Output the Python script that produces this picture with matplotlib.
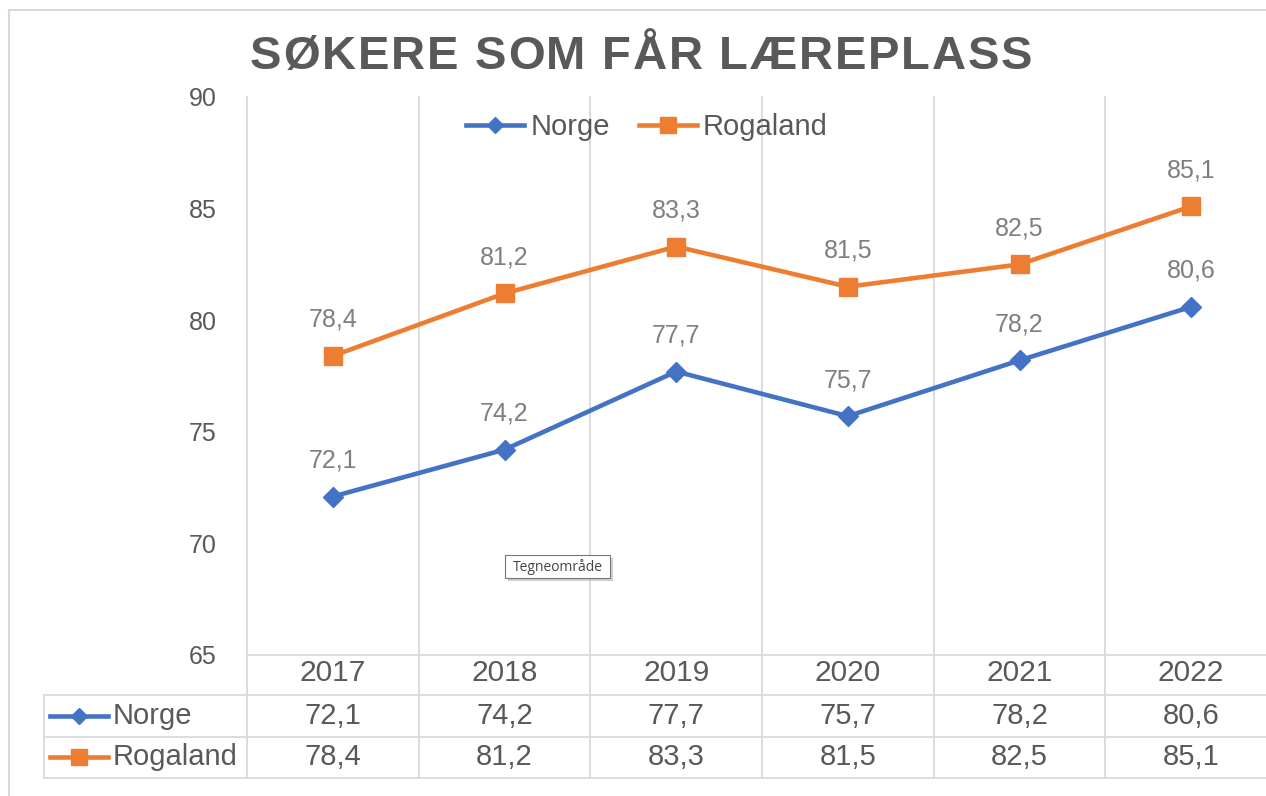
import matplotlib.pyplot as plt
from matplotlib.lines import Line2D
from matplotlib.patches import Rectangle

plt.rcParams['font.family'] = ['Liberation Sans', 'DejaVu Sans']

# data
years = ['2017', '2018', '2019', '2020', '2021', '2022']
norge = [72.1, 74.2, 77.7, 75.7, 78.2, 80.6]
rogaland = [78.4, 81.2, 83.3, 81.5, 82.5, 85.1]
series_names = ['Norge', 'Rogaland']
title = 'SØKERE SOM FÅR LÆREPLASS'

blue = '#4472C4'
orange = '#ED7D31'
txt = '#595959'
lbl = '#7F7F7F'
grid = '#D9D9D9'

W, H = 1266, 796
fig = plt.figure(figsize=(W / 100, H / 100), dpi=100)

def fx(px):
    return px / W

def fy(py):
    return 1 - py / H

# plot area (pixels): x 247..1277, y 97..655
ax = fig.add_axes([fx(247), fy(655), fx(1277) - fx(247), fy(97) - fy(655)])
x = list(range(len(years)))
ax.set_xlim(-0.5, len(years) - 0.5)
ax.set_ylim(65, 90)
ax.set_yticks([65, 70, 75, 80, 85, 90])
ax.tick_params(axis='y', length=0, pad=22, labelsize=18, labelcolor=txt)
ax.set_xticks([])
for s in ax.spines.values():
    s.set_visible(False)

ax.plot(x, norge, color=blue, lw=3.3, marker='D', ms=10, zorder=3)
ax.plot(x, rogaland, color=orange, lw=3.3, marker='s', ms=13, zorder=3)

for vals in [norge, rogaland]:
    for xi, v in zip(x, vals):
        ax.annotate(f'{v:.1f}'.replace('.', ','), (xi, v), xytext=(0, 26),
                    textcoords='offset points', ha='center', va='center',
                    fontsize=18, color=lbl)

handles = [Line2D([], [], color=blue, lw=3.3, marker='D', ms=8),
           Line2D([], [], color=orange, lw=3.3, marker='s', ms=11)]
ax.legend(handles, series_names, loc='center', bbox_to_anchor=(fx(647), fy(127)),
          bbox_transform=fig.transFigure, ncol=2, frameon=False,
          fontsize=21, labelcolor=txt, handlelength=2.0, handletextpad=0.2,
          columnspacing=1.0)

# data table under the plot, x in data units
def tr(px_y):
    return (fy(px_y) - fy(655)) / (fy(97) - fy(655))

xt = ax.get_xaxis_transform()
for b in [i - 0.5 for i in range(len(years) + 1)]:
    ax.plot([b, b], [tr(778), 1], transform=xt, color=grid, lw=1.3,
            clip_on=False, zorder=1)
ax.plot([-0.5, len(years) - 0.5], [0, 0], transform=xt, color=grid,
        lw=1.3, clip_on=False)
for py in [695, 737, 778]:
    fig.add_artist(Line2D([fx(44), 1], [fy(py), fy(py)], color=grid, lw=1.3))
fig.add_artist(Line2D([fx(44), fx(44)], [fy(695), fy(778)], color=grid, lw=1.3))

for xi, yr in zip(x, years):
    ax.text(xi, tr(673), yr, transform=xt, ha='center', va='center',
            fontsize=21.5, color=txt)
rows = [(norge, blue, 'D', 8, 716), (rogaland, orange, 's', 11, 757)]
for name, (vals, c, m, ms, py) in zip(series_names, rows):
    for xi, v in zip(x, vals):
        ax.text(xi, tr(py), f'{v:.1f}'.replace('.', ','), transform=xt,
                ha='center', va='center', fontsize=21, color=txt)
    fig.add_artist(Line2D([fx(50), fx(108)], [fy(py), fy(py)], color=c, lw=3.3))
    fig.add_artist(Line2D([fx(79)], [fy(py)], color=c, marker=m, ms=ms, lw=0))
    fig.text(fx(113), fy(py), name, ha='left', va='center', fontsize=21, color=txt)

# chart frame
fig.add_artist(Line2D([fx(9), fx(9)], [fy(10), 0], color=grid, lw=1.5))
fig.add_artist(Line2D([fx(9), 1], [fy(10), fy(10)], color=grid, lw=1.5))

# title with wide letter spacing
renderer = fig.canvas.get_renderer()
chars = []
widths = []
for ch in title:
    t = fig.text(0, fy(57), ch, fontsize=34, fontweight='bold', color=txt,
                 ha='left', va='center')
    widths.append(t.get_window_extent(renderer).width)
    chars.append(t)
left, right = 250, 1032
gap = (right - left - sum(widths)) / (len(title) - 1)
pos = left
for t, w in zip(chars, widths):
    t.set_x(fx(pos))
    pos += w + gap

# tooltip
fig.add_artist(Rectangle((fx(508), fy(581)), fx(105), fy(0) - fy(23),
                         transform=fig.transFigure, fc='#BBBBBB', ec='none', alpha=0.7))
fig.add_artist(Rectangle((fx(505), fy(578)), fx(105), fy(0) - fy(23),
                         transform=fig.transFigure, fc='white', ec='#767676', lw=0.8))
fig.text(fx(557.5), fy(567), 'Tegneområde', fontsize=10, color='#444444',
         family='Open Sans', ha='center', va='center')

fig.savefig('out.png', dpi=100)
